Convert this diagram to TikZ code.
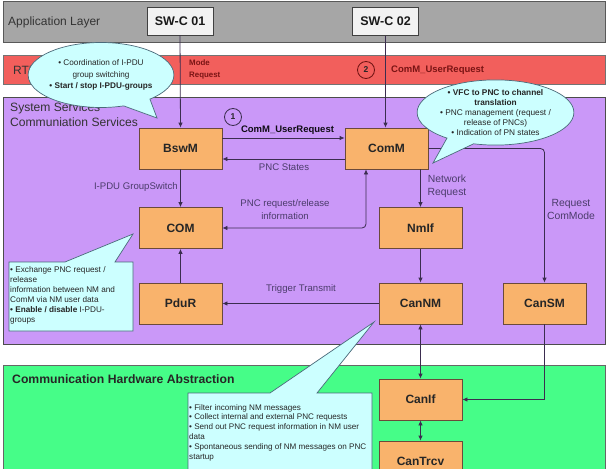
\documentclass[tikz,border=0pt]{standalone}
\usepackage{fontspec}
\setmainfont{Liberation Sans}
\usetikzlibrary{arrows.meta,shapes.callouts}
\definecolor{graybg}{HTML}{A6A6A6}
\definecolor{rtebg}{HTML}{F25F5C}
\definecolor{purplebg}{HTML}{CA98F8}
\definecolor{greenbg}{HTML}{46FD88}
\definecolor{boxfill}{HTML}{F9B36C}
\definecolor{boxborder}{HTML}{6B4A3A}
\definecolor{callfill}{HTML}{CCFFFF}
\definecolor{callborder}{HTML}{4A6A7A}
\definecolor{linecol}{HTML}{3B2D4F}
\definecolor{lblcol}{HTML}{4B3C6B}
\definecolor{rtetext}{HTML}{7A1414}
\definecolor{swcfill}{HTML}{F2F2F2}
\tikzset{
  band/.style={line width=0.8pt},
  bandlbl/.style={anchor=west, inner sep=0pt, text=black!80},
  box/.style={draw=boxborder, fill=boxfill, line width=0.8pt, minimum width=83pt,
    minimum height=41pt, inner sep=0pt, font=\fontsize{12}{14}\selectfont\bfseries, text=black!85},
  swc/.style={draw=black!75, fill=swcfill, line width=0.8pt, minimum width=66pt,
    minimum height=28pt, inner sep=0pt, font=\fontsize{12.5}{14}\selectfont\bfseries, text=black!90},
  conn/.style={draw=linecol, line width=0.8pt, >={Latex[length=5pt,width=4.5pt]}},
  lbl/.style={inner sep=0pt, text=lblcol, font=\fontsize{9.6}{12.8}\selectfont, align=center},
  biglbl/.style={lbl, font=\fontsize{10.4}{12.8}\selectfont},
  numcirc/.style={circle, draw=linecol, line width=0.8pt, minimum size=17pt, inner sep=0pt,
    font=\fontsize{8.5}{9}\selectfont\bfseries, text=black!85},
  callshape/.style={draw=callborder, fill=callfill, line width=0.7pt},
  calltext/.style={inner sep=0pt, text=black!85, align=left},
}
\begin{document}
\begin{tikzpicture}[x=1pt,y=-1pt]
\useasboundingbox (0,0) rectangle (607,468);
\clip (0,0) rectangle (607,468);
\fill[white] (0,0) rectangle (607,468);
% bands
\draw[band, fill=graybg, draw=black!65] (3,1) rectangle (605,42);
\draw[band, fill=rtebg, draw=black!55] (3,55) rectangle (605,84);
\draw[band, fill=purplebg, draw=black!70] (3,97) rectangle (605,344);
\draw[band, fill=greenbg, draw=black!60] (3,365) rectangle (605,480);
% band labels
\node[bandlbl, font=\fontsize{12}{14}\selectfont] (lapp) at (8,22) {Application Layer};
\node[bandlbl, font=\fontsize{12}{14}\selectfont] (lrte) at (13,70) {RTE};
\node[bandlbl, font=\fontsize{12.1}{15}\selectfont, align=left, anchor=north west] (lsys) at (10,103) {System Services\\Communiation Services};
\node[bandlbl, font=\fontsize{12.2}{14}\selectfont\bfseries, text=black!85] (lhw) at (12,379) {Communication Hardware Abstraction};
% RTE labels
\node[inner sep=0pt, anchor=west, align=left, text=rtetext, font=\fontsize{7.9}{12}\selectfont\bfseries] (lmode) at (189,69) {Mode\\Request};
\node[numcirc, draw=rtetext!90!black] (c2) at (366,70) {2};
\node[inner sep=0pt, anchor=west, text=rtetext, font=\fontsize{9.5}{11}\selectfont\bfseries] (luser2) at (391,70) {ComM\_UserRequest};
% SW-C boxes
\node[swc] (swc1) at (180,21) {SW-C 01};
\node[swc] (swc2) at (385.5,21.5) {SW-C 02};
% module boxes
\node[box] (bswm) at (180.5,148.5) {BswM};
\node[box] (comm) at (386.5,148.5) {ComM};
\node[box] (com) at (180.5,228) {COM};
\node[box] (nmif) at (420.5,228) {NmIf};
\node[box] (pdur) at (180.5,303.5) {PduR};
\node[box] (cannm) at (420.5,303.5) {CanNM};
\node[box] (cansm) at (544.5,303.5) {CanSM};
\node[box] (canif) at (420.5,399.5) {CanIf};
\node[box] (cantrcv) at (420.5,461.5) {CanTrcv};
% connectors
\draw[conn,->] (swc1.south) -- (bswm.north);
\draw[conn,->] (swc2.south) -- (swc2.south |- comm.north);
\draw[conn,->] ([yshift=10.5pt]bswm.east) -- ([yshift=10.5pt]comm.west);
\draw[conn,->] ([yshift=-10.5pt]comm.west) -- ([yshift=-10.5pt]bswm.east);
\draw[conn,->] (bswm.south) -- (com.north);
\draw[conn,<->, rounded corners=4pt] (com.east) -| ([xshift=-20.5pt]comm.south);
\draw[conn,->] (comm.south -| nmif.north) -- (nmif.north);
\draw[conn,->, rounded corners=4pt] (comm.east) -| (cansm.north);
\draw[conn,->] (nmif.south) -- (cannm.north);
\draw[conn,->] (cannm.west) -- (pdur.east);
\draw[conn,->] (pdur.north) -- (com.south);
\draw[conn,<->] (cannm.south) -- (canif.north);
\draw[conn,->] (cansm.south) |- (canif.east);
\draw[conn,<->] (canif.south) -- (cantrcv.north);
% connector labels
\node[numcirc] (c1) at (233,117) {1};
\node[lbl, font=\fontsize{9.5}{11}\selectfont\bfseries, text=black!80!lblcol] (luser1) at (287.5,130) {ComM\_UserRequest};
\node[lbl] (lpncst) at (284,167) {PNC States};
\node[lbl, anchor=east] (lipdu) at (178,187) {I-PDU GroupSwitch};
\node[lbl] (lpncreq) at (285,209.5) {PNC request/release\\information};
\node[biglbl] (lnet) at (447,186.5) {Network\\Request};
\node[biglbl] (lreqcm) at (571,209.5) {Request\\ComMode};
\node[lbl] (ltrig) at (301,289) {Trigger Transmit};
% callouts
\node[ellipse callout, callshape, minimum width=133pt, minimum height=65pt, inner sep=0pt,
  callout absolute pointer={(157,118)}, callout pointer arc=24, align=center,
  font=\fontsize{8.2}{11.5}\selectfont, text=black!85] (cb1) at (101,75)
  {• Coordination of I-PDU\\group switching\\\textbf{• Start / stop I-PDU-groups}};
\node[ellipse callout, callshape, minimum width=137pt, minimum height=57pt, inner sep=0pt,
  callout absolute pointer={(433,163)}, callout pointer arc=22, align=center,
  font=\fontsize{8.3}{10}\selectfont, text=black!85] (cb2) at (495.5,112.5)
  {\textbf{• VFC to PNC to channel}\\\textbf{translation}\\• PNC management (request /\\release of PNCs)\\• Indication of PN states};
\draw[callshape] (9,262) -- (65,262) -- (133,234) -- (115,262) -- (133,262) -- (133,331) -- (9,331) -- cycle;
\node[calltext, anchor=north west, font=\fontsize{8.2}{9.9}\selectfont] (cb3) at (10,266.5)
  {• Exchange PNC request /\\release\\information between NM and\\ComM via NM user data\\\textbf{• Enable / disable} I-PDU-\\groups};
\draw[callshape] (188,393) -- (270,393) -- (374,322) -- (317,393) -- (372,393) -- (372,480) -- (188,480) -- cycle;
\node[calltext, anchor=north west, font=\fontsize{8.1}{9.8}\selectfont] (cb4) at (189,404)
  {• Filter incoming NM messages\\• Collect internal and external PNC requests\\• Send out PNC request information in NM user\\data\\• Spontaneous sending of NM messages on PNC\\startup};
\end{tikzpicture}
\end{document}
